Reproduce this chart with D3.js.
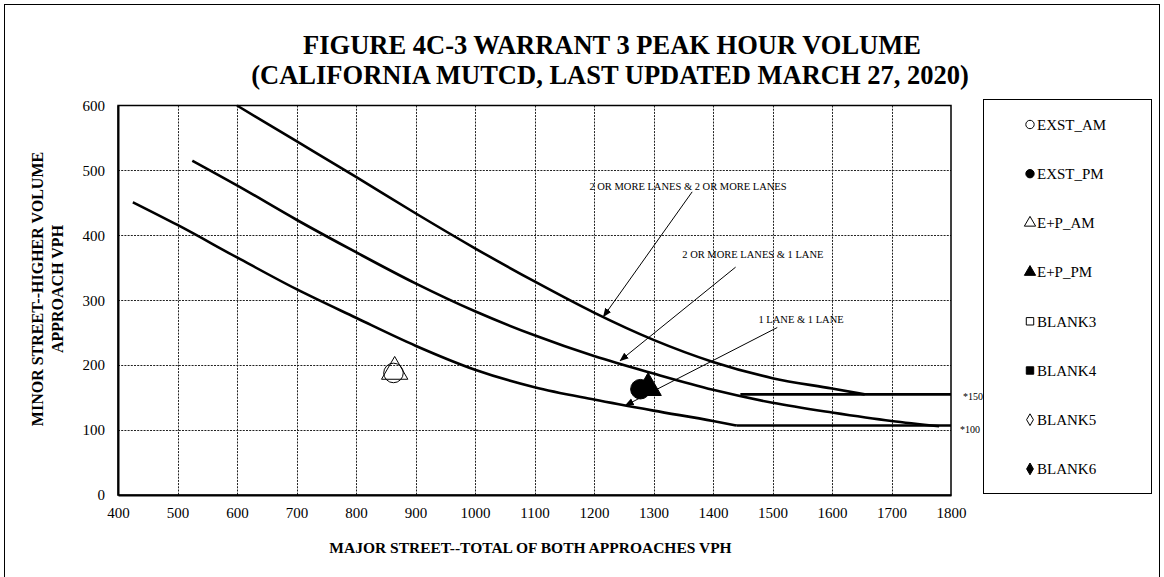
<!DOCTYPE html>
<html lang="en">
<head>
<meta charset="utf-8">
<title>Figure 4C-3 Warrant 3 Peak Hour Volume</title>
<script src="https://cdn.jsdelivr.net/npm/d3@7"></script>
<style>
  body { margin: 0; background: #fff; }
  svg { font-family: "Liberation Serif", "Times New Roman", serif; }
  .grid line { stroke: #222; stroke-dasharray: 2,1.2; stroke-width: 1; }
  .tick text { font-size: 15px; fill: #000; }
</style>
</head>
<body>
<script>
// ---- data ----
var xTickValues = [400, 500, 600, 700, 800, 900, 1000, 1100, 1200, 1300, 1400, 1500, 1600, 1700, 1800];
var yTickValues = [0, 100, 200, 300, 400, 500, 600];

// 2 or more lanes & 2 or more lanes
var curve22X = [600, 700, 800, 900, 1000, 1100, 1200, 1300, 1400, 1500, 1600, 1655];
var curve22Y = [600, 545, 490, 434, 380, 329, 281, 239, 205, 180, 164, 155];
// 2 or more lanes & 1 lane
var curve21X = [525, 600, 700, 800, 900, 1000, 1100, 1200, 1300, 1400, 1500, 1600, 1700, 1780];
var curve21Y = [515, 477, 424, 374, 326, 283, 246, 214, 187, 162, 142, 127, 114, 106];
// 1 lane & 1 lane
var curve11X = [425, 500, 600, 700, 800, 900, 1000, 1100, 1200, 1300, 1400, 1440];
var curve11Y = [451, 416, 366, 317, 273, 230, 193, 166, 147, 130, 114, 107];
// lower thresholds
var floor150X = [1446, 1800], floor150Y = [155, 155];
var floor100X = [1440, 1800], floor100Y = [107, 107];

// study points
var pointNames = ["EXST_AM", "EXST_PM", "E+P_AM", "E+P_PM"];
var pointX = [863, 1278, 865, 1291];
var pointY = [188, 163, 190, 165];

var legendNames = ["EXST_AM", "EXST_PM", "E+P_AM", "E+P_PM", "BLANK3", "BLANK4", "BLANK5", "BLANK6"];
var legendSymbols = ["circle", "circle", "triangle", "triangle", "square", "square", "diamond", "diamond"];
var legendFilled = [false, true, false, true, false, true, false, true];

// annotation labels and arrows (data units)
var noteText = ["2 OR MORE LANES & 2 OR MORE LANES", "2 OR MORE LANES & 1 LANE", "1 LANE & 1 LANE"];
var noteX = [1358, 1467, 1548];
var noteY = [470, 365, 265];
var arrowFromX = [1365, 1438, 1508], arrowFromY = [467, 351, 258];
var arrowToX = [1216, 1244, 1253], arrowToY = [275, 207, 138];
var floorText = ["*150", "*100"];
var floorTextX = [1820, 1815];
var floorTextY = [146, 96];

// ---- layout ----
var W = 1164, H = 577;
var plot = { left: 118, top: 105.5, right: 951, bottom: 495 };

var svg = d3.select("body").append("svg")
  .attr("width", W).attr("height", H);

// outer frame
svg.append("rect")
  .attr("x", 4.5).attr("y", 4.5)
  .attr("width", 1155).attr("height", 620)
  .attr("fill", "none").attr("stroke", "#000").attr("stroke-width", 1);

svg.append("text")
  .attr("x", 612).attr("y", 54)
  .attr("text-anchor", "middle")
  .style("font-size", "26.5px").style("font-weight", "bold")
  .text("FIGURE 4C-3 WARRANT 3 PEAK HOUR VOLUME");
svg.append("text")
  .attr("x", 610).attr("y", 84)
  .attr("text-anchor", "middle")
  .style("font-size", "26.5px").style("font-weight", "bold")
  .text("(CALIFORNIA MUTCD, LAST UPDATED MARCH 27, 2020)");

var x = d3.scaleLinear().domain([400, 1800]).range([plot.left, plot.right]);
var y = d3.scaleLinear().domain([0, 600]).range([plot.bottom, plot.top]);

// grid
var grid = svg.append("g").attr("class", "grid");
grid.selectAll("line.v")
  .data(xTickValues.slice(1, -1))
  .enter().append("line")
  .attr("x1", function(d){ return Math.round(x(d)) + 0.5; })
  .attr("x2", function(d){ return Math.round(x(d)) + 0.5; })
  .attr("y1", plot.top).attr("y2", plot.bottom);
grid.selectAll("line.h")
  .data(yTickValues.slice(1, -1))
  .enter().append("line")
  .attr("y1", function(d){ return Math.round(y(d)) + 0.5; })
  .attr("y2", function(d){ return Math.round(y(d)) + 0.5; })
  .attr("x1", plot.left).attr("x2", plot.right);

// plot border
svg.append("rect")
  .attr("x", plot.left).attr("y", plot.top)
  .attr("width", plot.right - plot.left).attr("height", plot.bottom - plot.top)
  .attr("fill", "none").attr("stroke", "#000").attr("stroke-width", 1.5);

// axes
svg.append("g")
  .attr("transform", "translate(0," + plot.bottom + ")")
  .call(d3.axisBottom(x).tickValues(xTickValues).tickSize(0).tickPadding(12).tickFormat(d3.format("d")))
  .attr("font-family", null).attr("font-size", null);
svg.append("g")
  .attr("transform", "translate(" + plot.left + ",0)")
  .call(d3.axisLeft(y).tickValues(yTickValues).tickSize(0).tickPadding(13).tickFormat(d3.format("d")))
  .attr("font-family", null).attr("font-size", null);
svg.selectAll(".domain").attr("stroke", "#000").attr("stroke-width", 2);

svg.append("text")
  .attr("x", (plot.left + plot.right) / 2 - 4).attr("y", 553)
  .attr("text-anchor", "middle")
  .style("font-size", "15.5px").style("font-weight", "bold")
  .text("MAJOR STREET--TOTAL OF BOTH APPROACHES VPH");

var yl = svg.append("text")
  .attr("transform", "translate(43,289) rotate(-90)")
  .attr("text-anchor", "middle")
  .style("font-size", "16px").style("font-weight", "bold");
yl.append("tspan").attr("x", 0).attr("dy", 0).text("MINOR STREET--HIGHER VOLUME");
yl.append("tspan").attr("x", 0).attr("dy", 20).text("APPROACH VPH");

// curves
var line = d3.line()
  .x(function(d){ return x(d[0]); })
  .y(function(d){ return y(d[1]); })
  .curve(d3.curveMonotoneX);

function zip(xs, ys) { return xs.map(function(v, i){ return [v, ys[i]]; }); }

var curves = [
  zip(curve22X, curve22Y),
  zip(curve21X, curve21Y),
  zip(curve11X, curve11Y),
  zip(floor150X, floor150Y),
  zip(floor100X, floor100Y)
];
svg.append("g").selectAll("path")
  .data(curves)
  .enter().append("path")
  .attr("d", line)
  .attr("fill", "none")
  .attr("stroke", "#000")
  .attr("stroke-width", 2.6);

// arrows
svg.append("defs").append("marker")
  .attr("id", "head")
  .attr("viewBox", "0 0 10 10")
  .attr("refX", 9).attr("refY", 5)
  .attr("markerWidth", 9).attr("markerHeight", 9)
  .attr("orient", "auto")
  .append("path").attr("d", "M0,1L10,5L0,9Z").attr("fill", "#000");

svg.append("g").selectAll("line")
  .data(noteText)
  .enter().append("line")
  .attr("x1", function(d, i){ return x(arrowFromX[i]); })
  .attr("y1", function(d, i){ return y(arrowFromY[i]); })
  .attr("x2", function(d, i){ return x(arrowToX[i]); })
  .attr("y2", function(d, i){ return y(arrowToY[i]); })
  .attr("stroke", "#000").attr("stroke-width", 1)
  .attr("marker-end", "url(#head)");

svg.append("g").selectAll("text")
  .data(noteText)
  .enter().append("text")
  .attr("x", function(d, i){ return x(noteX[i]); })
  .attr("y", function(d, i){ return y(noteY[i]); })
  .attr("text-anchor", "middle")
  .style("font-size", "10.5px")
  .text(function(d){ return d; });

svg.append("g").selectAll("text")
  .data(floorText)
  .enter().append("text")
  .attr("x", function(d, i){ return x(floorTextX[i]); })
  .attr("y", function(d, i){ return y(floorTextY[i]); })
  .style("font-size", "10px")
  .text(function(d){ return d; });

// points
function symbolType(s) {
  return s === "circle" ? d3.symbolCircle :
         s === "triangle" ? d3.symbolTriangle :
         s === "square" ? d3.symbolSquare : d3.symbolDiamond;
}
var pointSymbols = ["circle", "circle", "triangle", "triangle"];
var pointFilled = [false, true, false, true];
svg.append("g").selectAll("path")
  .data(pointNames)
  .enter().append("path")
  .attr("transform", function(d, i){ return "translate(" + x(pointX[i]) + "," + y(pointY[i]) + ")"; })
  .attr("d", function(d, i){ return d3.symbol().type(symbolType(pointSymbols[i])).size(300)(); })
  .attr("fill", function(d, i){ return pointFilled[i] ? "#000" : "none"; })
  .attr("stroke", "#000").attr("stroke-width", 1);

// legend
svg.append("rect")
  .attr("x", 983.5).attr("y", 99.5)
  .attr("width", 168).attr("height", 394)
  .attr("fill", "#fff").attr("stroke", "#000").attr("stroke-width", 1);

var lg = svg.append("g").selectAll("g")
  .data(legendNames)
  .enter().append("g")
  .attr("transform", function(d, i){ return "translate(1030," + (124.5 + i * 49.2) + ")"; });
lg.append("path")
  .attr("d", function(d, i){
    var t = legendSymbols[i];
    return d3.symbol().type(symbolType(t)).size(t === "diamond" ? 40 : 55)();
  })
  .attr("fill", function(d, i){ return legendFilled[i] ? "#000" : "#fff"; })
  .attr("stroke", "#000").attr("stroke-width", 1);
lg.append("text")
  .attr("x", 7).attr("dy", "0.35em")
  .style("font-size", "15px")
  .text(function(d){ return d; });
</script>
</body>
</html>
